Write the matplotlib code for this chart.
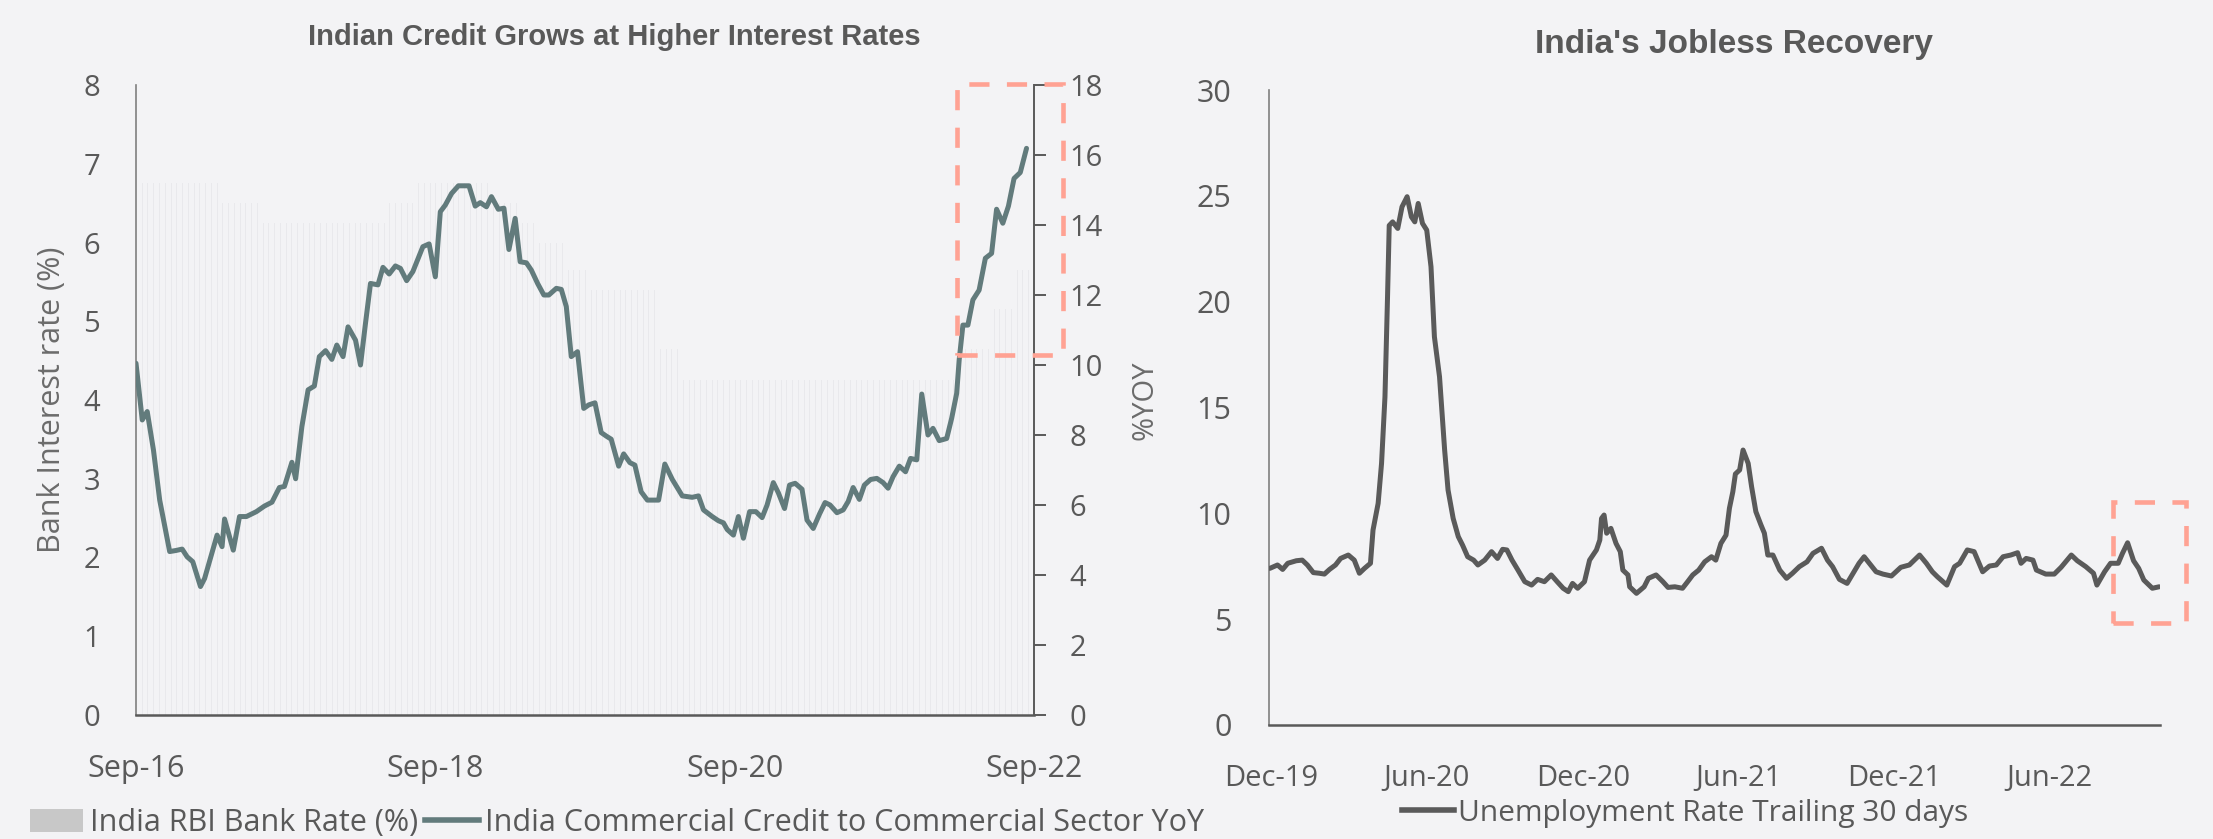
import numpy as np
import matplotlib
matplotlib.use("Agg")
import matplotlib.pyplot as plt
import matplotlib.dates as mdates
from matplotlib.patches import Rectangle, Patch
from matplotlib.lines import Line2D

plt.rcParams['font.family'] = ['Open Sans', 'DejaVu Sans']

# ---------------- data ----------------
# Left panel: months elapsed since Sep-2016
credit_month = [
    0.0, 0.5, 0.9, 1.4, 1.9, 2.7, 3.2, 3.7, 4.1, 4.55,
    5.17, 5.5, 6.0, 6.5, 6.9, 7.1, 7.8, 8.3, 8.85, 9.65,
    10.3, 10.9, 11.5, 11.9, 12.5, 12.8, 13.3, 13.8, 14.3, 14.7,
    15.2, 15.7, 16.1, 16.6, 17.0, 17.6, 18.0, 18.4, 18.8, 19.4,
    19.8, 20.3, 20.8, 21.2, 21.7, 22.2, 23.0, 23.5, 24.0, 24.4,
    24.8, 25.3, 25.85, 26.7, 27.2, 27.6, 28.1, 28.5, 29.05, 29.5,
    29.9, 30.4, 30.8, 31.3, 31.7, 32.2, 32.7, 33.1, 33.7, 34.1,
    34.5, 34.9, 35.4, 35.9, 36.3, 36.8, 37.3, 37.7, 38.1, 38.7,
    39.1, 39.6, 40.0, 40.5, 41.0, 41.9, 42.4, 43.0, 43.8, 44.6,
    45.1, 45.5, 46.2, 46.7, 47.1, 47.4, 47.9, 48.3, 48.7, 49.2,
    49.7, 50.2, 50.6, 51.1, 51.5, 52.0, 52.4, 52.85, 53.4, 53.8,
    54.3, 54.8, 55.25, 55.65, 56.2, 56.7, 57.1, 57.5, 58.0, 58.4,
    58.9, 59.4, 59.9, 60.3, 60.7, 61.2, 61.7, 62.1, 62.6, 63.0,
    63.5, 63.9, 64.4, 65.0, 65.4, 65.8, 66.0, 66.3, 66.7, 67.1,
    67.6, 68.1, 68.6, 69.0, 69.5, 69.95, 70.4, 70.9, 71.4,
]
credit_yoy = [
    10.05, 8.43, 8.67, 7.57, 6.14, 4.67, 4.70, 4.74, 4.52, 4.38,
    3.67, 3.90, 4.52, 5.14, 4.81, 5.60, 4.71, 5.67, 5.67, 5.81,
    5.97, 6.08, 6.50, 6.53, 7.22, 6.75, 8.24, 9.29, 9.40, 10.24,
    10.41, 10.16, 10.57, 10.24, 11.09, 10.71, 10.00, 11.19, 12.33, 12.29,
    12.79, 12.60, 12.83, 12.76, 12.41, 12.67, 13.38, 13.46, 12.52, 14.38,
    14.57, 14.90, 15.12, 15.12, 14.54, 14.64, 14.52, 14.81, 14.45, 14.48,
    13.30, 14.19, 12.95, 12.92, 12.71, 12.33, 12.00, 12.00, 12.19, 12.16,
    11.67, 10.24, 10.38, 8.76, 8.86, 8.92, 8.07, 7.97, 7.88, 7.11,
    7.46, 7.21, 7.14, 6.38, 6.14, 6.14, 7.17, 6.73, 6.26, 6.22,
    6.26, 5.86, 5.67, 5.55, 5.49, 5.30, 5.14, 5.67, 5.05, 5.81,
    5.81, 5.64, 6.00, 6.64, 6.35, 5.90, 6.57, 6.62, 6.45, 5.57,
    5.33, 5.74, 6.07, 6.00, 5.78, 5.86, 6.10, 6.50, 6.16, 6.57,
    6.73, 6.76, 6.64, 6.48, 6.81, 7.11, 6.95, 7.33, 7.29, 9.17,
    8.00, 8.19, 7.84, 7.90, 8.48, 9.19, 10.14, 11.14, 11.14, 11.86,
    12.14, 13.05, 13.19, 14.45, 14.05, 14.54, 15.33, 15.50, 16.19,
]

# RBI bank rate: month (since Sep-2016) each level took effect, and the level
rate_change_month = [0.0, 6.6, 10.0, 20.1, 22.2, 28.2, 30.6, 32.2, 34.3,
                     36.2, 41.6, 43.5, 66.0, 68.5, 70.3]
rate_level = [6.75, 6.50, 6.25, 6.50, 6.75, 6.50, 6.25, 6.00, 5.65,
              5.40, 4.65, 4.25, 4.65, 5.15, 5.65]

credit_ticks = [0, 24, 48, 72]
credit_ticklabels = ['Sep-16', 'Sep-18', 'Sep-20', 'Sep-22']

# Right panel: days elapsed since 2019-12-01
unemp_day = [
    -1, 8, 14, 20, 30, 37, 43, 50, 57, 63,
    69, 76, 82, 91, 98, 104, 110, 117, 120, 126,
    130, 134, 137, 139, 143, 149, 154, 160, 165, 169,
    173, 178, 183, 188, 192, 198, 204, 208, 214, 220,
    225, 231, 238, 243, 251, 259, 266, 272, 277, 283,
    290, 298, 306, 313, 321, 329, 336, 343, 349, 354,
    360, 368, 374, 382, 386, 388, 391, 394, 399, 405,
    410, 413, 419, 421, 429, 438, 443, 452, 460, 466,
    474, 483, 489, 495, 502, 509, 517, 522, 528, 534,
    538, 542, 545, 550, 554, 560, 564, 569, 575, 579,
    583, 589, 597, 605, 612, 620, 629, 636, 646, 653,
    659, 667, 676, 683, 690, 696, 710, 718, 728, 739,
    749, 761, 769, 776, 782, 793, 802, 808, 817, 825,
    835, 843, 851, 859, 868, 876, 880, 886, 894, 898,
    909, 919, 927, 939, 946, 956, 965, 969, 978, 985,
    994, 999, 1005, 1012, 1018, 1024, 1034, 1042,
]
unemp_rate = [
    7.40, 7.56, 7.35, 7.64, 7.76, 7.79, 7.56, 7.20, 7.17, 7.13,
    7.35, 7.56, 7.87, 8.03, 7.79, 7.17, 7.40, 7.64, 9.21, 10.47,
    12.36, 15.50, 20.20, 23.60, 23.77, 23.46, 24.48, 24.96, 24.01, 23.77,
    24.64, 23.70, 23.38, 21.65, 18.34, 16.45, 12.99, 11.10, 9.76, 8.90,
    8.50, 7.95, 7.79, 7.56, 7.79, 8.19, 7.87, 8.30, 8.27, 7.79,
    7.32, 6.77, 6.61, 6.88, 6.77, 7.09, 6.77, 6.46, 6.30, 6.69,
    6.46, 6.77, 7.79, 8.27, 8.74, 9.76, 9.92, 9.06, 9.29, 8.58,
    8.19, 7.32, 7.09, 6.53, 6.22, 6.53, 6.93, 7.09, 6.77, 6.50,
    6.53, 6.46, 6.77, 7.09, 7.32, 7.71, 7.95, 7.79, 8.58, 8.97,
    10.24, 11.02, 11.86, 12.05, 12.99, 12.36, 11.26, 10.08, 9.45, 9.06,
    8.03, 8.03, 7.32, 6.93, 7.17, 7.48, 7.71, 8.11, 8.35, 7.79,
    7.48, 6.88, 6.69, 7.17, 7.64, 7.95, 7.24, 7.13, 7.04, 7.45,
    7.56, 8.03, 7.64, 7.24, 7.00, 6.61, 7.48, 7.64, 8.27, 8.19,
    7.24, 7.51, 7.56, 7.95, 8.03, 8.14, 7.64, 7.87, 7.79, 7.32,
    7.13, 7.13, 7.45, 8.03, 7.76, 7.48, 7.17, 6.61, 7.24, 7.64,
    7.64, 8.11, 8.61, 7.76, 7.40, 6.85, 6.46, 6.53,
]
unemp_ticks = ['2019-12-01', '2020-06-01', '2020-12-01',
               '2021-06-01', '2021-12-01', '2022-06-01']

# ---------------- style ----------------
BG = '#f3f3f5'
TXT = '#595959'
CREDIT_C = '#627b7c'
UNEMP_C = '#5a5a5a'
BAR_C = '#e9e9ec'
BOX_C = '#ffa293'

W, H = 2213, 839
fig = plt.figure(figsize=(W / 100, H / 100), dpi=100, facecolor=BG)


def fx(px):
    return px / W


def fy(py):
    return 1 - py / H


# ---------------- left panel ----------------
ax = fig.add_axes([fx(136), fy(715), fx(1034 - 136), (715 - 85) / H])
ax.set_facecolor('none')
ax2 = ax.twinx()

# fortnightly bank-rate bars
bar_x = np.arange(0.5, 71.6, 12 / 26)
idx = np.searchsorted(rate_change_month, bar_x, side='right') - 1
bar_h = np.array(rate_level)[idx]
ax.bar(bar_x, bar_h, width=0.08, color=BAR_C, linewidth=0, zorder=1)

ax2.plot(credit_month, credit_yoy, color=CREDIT_C, lw=3.6,
         solid_joinstyle='round', solid_capstyle='round', zorder=3)

ax.set_xlim(0, 72)
ax.set_ylim(0, 8)
ax2.set_ylim(0, 18)
ax.set_yticks(range(0, 9))
ax2.set_yticks(range(0, 19, 2))
ax.set_xticks(credit_ticks)
ax.set_xticklabels(credit_ticklabels)

for s in ['top', 'right']:
    ax.spines[s].set_visible(False)
ax2.spines['top'].set_visible(False)
ax2.spines['left'].set_visible(False)
ax2.spines['bottom'].set_visible(False)
ax.spines['left'].set_color('#7f7f7f')
ax.spines['left'].set_linewidth(1.2)
ax.spines['bottom'].set_color(TXT)
ax.spines['bottom'].set_linewidth(1.8)
ax2.spines['right'].set_color(TXT)
ax2.spines['right'].set_linewidth(1.4)

ax.tick_params(axis='y', length=0, pad=26, labelsize=21, labelcolor=TXT)
ax.tick_params(axis='x', length=0, pad=28, labelsize=22, labelcolor=TXT)
ax2.tick_params(axis='y', direction='out', length=8.5, width=1.4,
                color=TXT, pad=17, labelsize=21, labelcolor=TXT)

ax.set_ylabel('Bank Interest rate (%)', fontsize=22, color='#6b6b6b')
ax.yaxis.set_label_coords(-0.077, 0.5)
ax2.set_ylabel('%YOY', fontsize=21, color='#6b6b6b')
ax2.yaxis.set_label_coords(1.108, 0.5)

ax2.add_patch(Rectangle((65.8, 10.29), 8.5, 7.74, fill=False,
                        edgecolor=BOX_C, lw=3.3, linestyle=(0, (4.4, 3.8)),
                        clip_on=False, zorder=5))

fig.text(fx(614), fy(37), 'Indian Credit Grows at Higher Interest Rates',
         ha='center', va='center', fontsize=21, fontweight='bold',
         color=TXT, family=['Liberation Sans', 'DejaVu Sans'])

left_handles = [Patch(facecolor='#c8c8c8', edgecolor='none'),
                Line2D([], [], color=CREDIT_C, lw=4)]
fig.legend(left_handles,
           ['India RBI Bank Rate (%)',
            'India Commercial Credit to Commercial Sector YoY'],
           loc='center left', bbox_to_anchor=(fx(30), fy(823)), ncol=2,
           frameon=False, fontsize=22, labelcolor=TXT, handlelength=1.75,
           handleheight=0.75, handletextpad=0.2, columnspacing=0.25,
           borderpad=0, borderaxespad=0)

# ---------------- right panel ----------------
bx = fig.add_axes([fx(1269), fy(725), fx(2160 - 1269), (725 - 90) / H])
bx.set_facecolor('none')

base = np.datetime64('2019-12-01')
dates = base + np.array(unemp_day).astype('timedelta64[D]')
bx.plot(dates, unemp_rate, color=UNEMP_C, lw=3.6,
        solid_joinstyle='round', solid_capstyle='round', zorder=3)

bx.set_xlim(base - np.timedelta64(2, 'D'), base + np.timedelta64(1043, 'D'))
bx.set_ylim(0, 30)
bx.set_yticks(range(0, 31, 5))
bx.set_xticks([np.datetime64(t) for t in unemp_ticks])
bx.xaxis.set_major_formatter(mdates.DateFormatter('%b-%y'))

for s in ['top', 'right']:
    bx.spines[s].set_visible(False)
bx.spines['left'].set_color('#7f7f7f')
bx.spines['left'].set_linewidth(1.2)
bx.spines['bottom'].set_color(TXT)
bx.spines['bottom'].set_linewidth(1.8)
bx.tick_params(axis='y', length=0, pad=27, labelsize=22, labelcolor=TXT)
bx.tick_params(axis='x', length=0, pad=28, labelsize=21, labelcolor=TXT)

box_x0 = mdates.date2num(base + np.timedelta64(988, 'D'))
bx.add_patch(Rectangle((box_x0, 4.82), 85, 5.71, fill=False,
                       edgecolor=BOX_C, lw=3.3, linestyle=(0, (4.4, 3.8)),
                       clip_on=False, zorder=5))

fig.text(fx(1734), fy(44), "India's Jobless Recovery",
         ha='center', va='center', fontsize=24, fontweight='bold',
         color=TXT, family=['Liberation Sans', 'DejaVu Sans'])

fig.legend([Line2D([], [], color=UNEMP_C, lw=4)],
           ['Unemployment Rate Trailing 30 days'],
           loc='center left', bbox_to_anchor=(fx(1402), fy(813)),
           frameon=False, fontsize=21.5, labelcolor=TXT, handlelength=1.75,
           handletextpad=0.12, borderpad=0, borderaxespad=0)

fig.savefig('out.png', dpi=100, facecolor=BG)
